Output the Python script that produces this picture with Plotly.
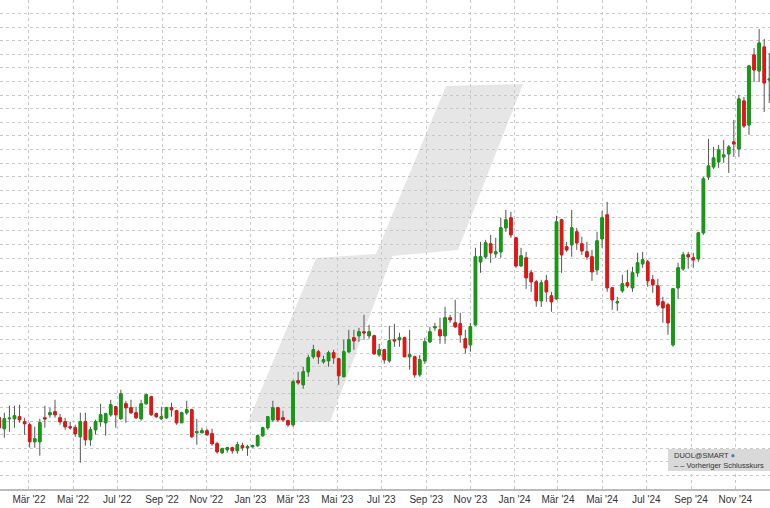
import plotly.graph_objects as go
import pandas as pd

# weekly candles (price units = chart scale)
start = "2022-01-19"
opens = [72,61,71,71,73,68,65,48,48,72,75,78,72,68,63,62,53,68,50,60,68,67,75,83,71,86,82,77,71,86,93,76,71,72,82,79,67,77,80,57,57,59,56,46,37,40,42,39,44,42,43,44,54,62,70,82,72,69,65,
         109,105,118,133,138,128,129,137,131,113,138,152,154,158,154,154,135,140,129,150,150,152,133,133,115,129,148,162,160,154,172,167,166,151,145,165,228,233,246,236,238,262,272,252,224,232,217,208,189,209,194,191,270,243,245,258,246,238,233,220,251,275,202,187,199,207,202,217,226,228,210,204,188,185,145,202,221,235,232,231,257,313,323,328,333,336,348,341,389,365,435,419,443,410]
highs = [77,77,84,84,85,72,67,63,71,84,82,90,76,72,68,65,77,77,63,70,86,77,90,84,100,89,90,83,90,96,94,77,83,83,87,80,78,89,81,71,62,61,61,48,42,43,43,48,47,45,45,55,63,73,89,83,79,70,110,
         118,123,135,145,140,134,139,140,132,150,160,160,162,175,165,155,146,141,164,166,157,153,160,134,135,152,163,167,172,183,175,190,177,160,167,242,248,250,255,252,272,280,278,253,242,238,220,210,210,215,198,274,271,248,280,262,253,248,240,258,279,288,203,193,215,220,223,237,238,230,215,211,193,187,202,227,238,238,237,258,313,351,343,345,350,345,370,395,393,425,442,461,451,437]
lows = [60,52,58,62,67,55,42,42,34,62,72,72,65,60,60,53,27,44,44,55,63,54,73,62,70,67,76,71,69,85,74,72,70,71,73,65,67,75,52,45,57,54,44,36,36,37,36,36,39,34,42,43,53,60,68,68,68,63,63,
        105,101,113,131,126,126,123,126,105,113,137,140,148,150,151,135,133,126,127,143,143,133,120,112,113,126,147,159,146,146,167,162,147,136,138,164,217,231,227,232,232,258,252,222,223,201,198,183,183,188,178,190,217,238,233,240,235,230,209,215,242,198,180,179,197,202,198,213,222,203,197,183,167,155,143,191,219,221,222,228,255,310,321,322,327,317,333,333,362,355,408,408,378,387]
closes = [62,71,71.5,74,70,66,48,51,67,71,77,75,68,63,62,56,68,50,60,68,75,76,85,75,96,82,77,72,86,95,75,73,73,82,80,67,77,80,53,58,59,55,46,38,41,42,39,45,42,43,44,54,62,73,82,70,70,65,108,
          107,118,132,140,133,130,137,132,114,138,150,149,158,157,158,136,140,130,149,149,152,133,135,115,130,148,158,163,154,172,170,163,155,142,163,233,233,247,237,238,262,270,255,224,234,212,208,189,207,198,188,268,235,240,262,247,239,233,218,249,272,202,190,188,206,204,217,227,230,209,205,185,182,167,201,222,235,233,230,257,311,324,332,340,335,343,346,391,364,424,420,447,407,411]

tick_dates = ["2022-03-01","2022-05-01","2022-07-01","2022-09-01","2022-11-01","2023-01-01","2023-03-01",
              "2023-05-01","2023-07-01","2023-09-01","2023-11-01","2024-01-01","2024-03-01","2024-05-01",
              "2024-07-01","2024-09-01","2024-11-01"]
tick_text = ["Mär '22","Mai '22","Jul '22","Sep '22","Nov '22","Jan '23","Mär '23","Mai '23","Jul '23",
             "Sep '23","Nov '23","Jan '24","Mär '24","Mai '24","Jul '24","Sep '24","Nov '24"]

dates = pd.date_range(start, periods=len(opens), freq="7D")
body_hi = [max(o, c) for o, c in zip(opens, closes)]
body_lo = [min(o, c) for o, c in zip(opens, closes)]

fig = go.Figure()
fig.add_trace(go.Candlestick(x=dates, open=opens, high=highs, low=lows, close=closes,
    increasing=dict(line=dict(color="#555555", width=1), fillcolor="#555555"),
    decreasing=dict(line=dict(color="#555555", width=1), fillcolor="#555555"),
    whiskerwidth=0, showlegend=False, hoverinfo="skip"))
fig.add_trace(go.Candlestick(x=dates, open=opens, high=body_hi, low=body_lo, close=closes,
    increasing=dict(line=dict(color="#0f9f0f", width=1), fillcolor="#0f9f0f"),
    decreasing=dict(line=dict(color="#f01010", width=1), fillcolor="#f01010"),
    whiskerwidth=0, showlegend=False))

W, H = 770, 489
def px(x, y):
    return f"{x/W:.4f},{1-y/H:.4f}"
pts = [(248,422),(316,258),(376,254),(446,86),(523,84),(458,250),(392,256),(330,422)]
path = "M " + " L ".join(px(x, y) for x, y in pts) + " Z"
fig.add_shape(type="path", path=path, xref="paper", yref="paper",
              fillcolor="#e6e6e6", line=dict(width=0), layer="below")

fig.add_shape(type="rect", xref="paper", yref="paper", x0=668/W, x1=1.0,
              y0=1-471/H, y1=1-449/H, fillcolor="#d9d9d9", line=dict(width=0), layer="above")
fig.add_annotation(xref="paper", yref="paper", x=672/W, y=1-455.5/H, text="DUOL@SMART <span style='color:#4a7fc0'>●</span>",
                   showarrow=False, xanchor="left", yanchor="middle",
                   font=dict(family="Liberation Sans, Arial", size=7.5, color="#333333"))
fig.add_annotation(xref="paper", yref="paper", x=672/W, y=1-465/H, text="– – Vorheriger Schlusskurs",
                   showarrow=False, xanchor="left", yanchor="middle",
                   font=dict(family="Liberation Sans, Arial", size=7.5, color="#333333"))

fig.update_layout(
    width=770, height=508, margin=dict(l=0, r=0, t=0, b=19),
    paper_bgcolor="white", plot_bgcolor="white",
    xaxis=dict(range=["2022-01-20", "2024-12-19"], rangeslider=dict(visible=False),
               tickvals=tick_dates, ticktext=tick_text, showgrid=True,
               gridcolor="#c8c8c8", griddash="dot", gridwidth=1,
               showline=True, linecolor="#bbbbbb", linewidth=2,
               tickfont=dict(family="Liberation Sans, Arial", size=10, color="#333333"), ticks=""),
    yaxis=dict(range=[0.7, 490], tick0=0.7, dtick=13.59, showticklabels=False,
               showgrid=True, gridcolor="#c8c8c8", griddash="dot", gridwidth=1, zeroline=False),
)
fig.write_html("out.html", config={"displayModeBar": False},
               post_script="document.body.style.margin='0';document.body.style.overflow='hidden';")
